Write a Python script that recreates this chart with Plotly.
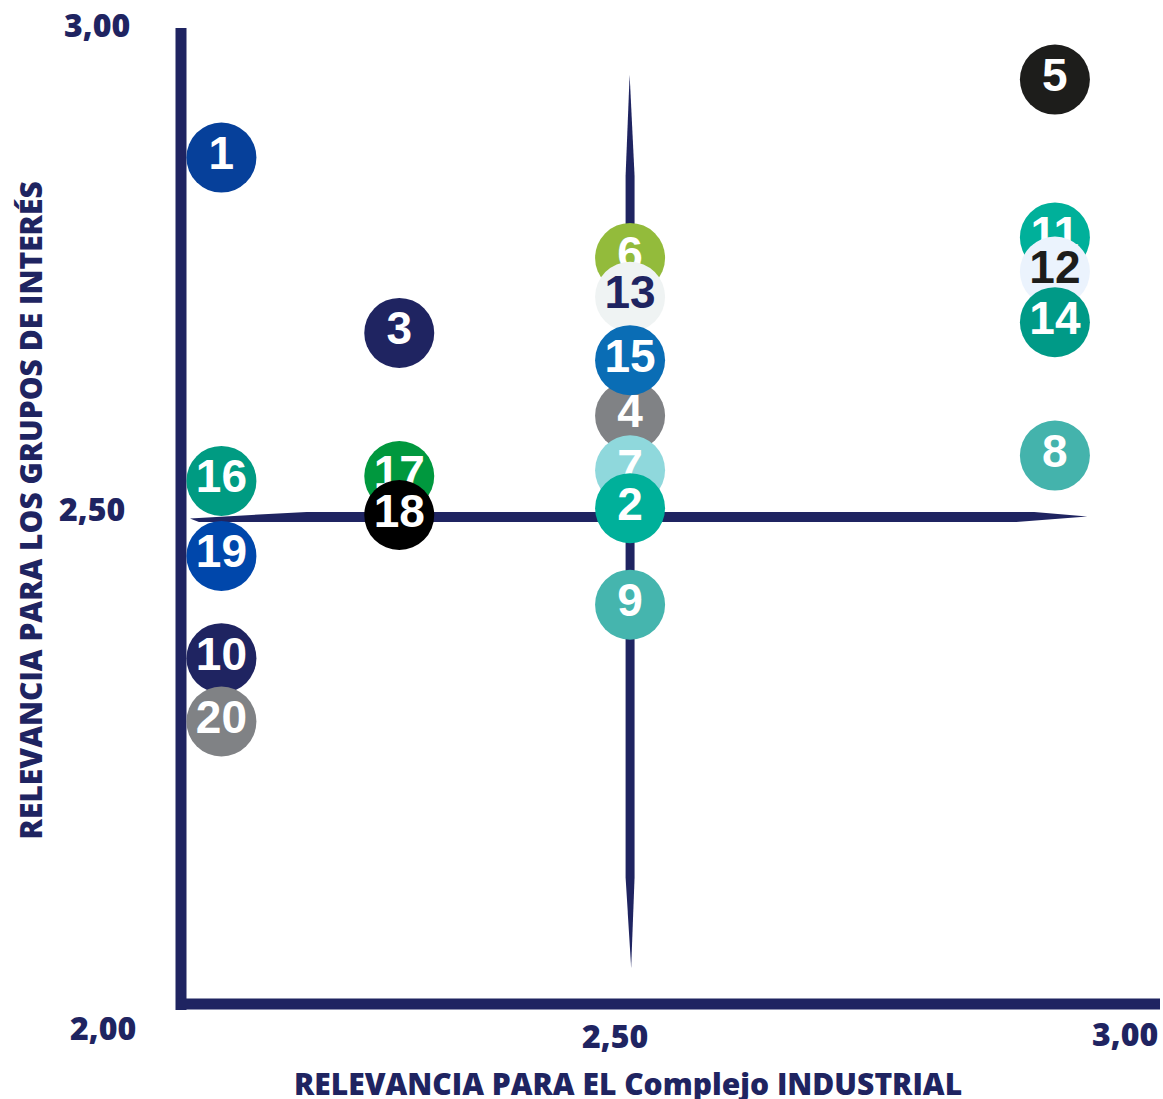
import plotly.graph_objects as go

# Materiality matrix: relevance for the industrial complex (x) vs stakeholders (y)
topic_ids = ["1", "2", "3", "4", "5", "6", "7", "8", "9", "10",
             "11", "12", "13", "14", "15", "16", "17", "18", "19", "20"]
relevance_complex = [2.045, 2.500, 2.243, 2.500, 2.973, 2.500, 2.500, 2.973, 2.500, 2.045,
                     2.973, 2.973, 2.500, 2.973, 2.500, 2.045, 2.243, 2.243, 2.045, 2.045]
relevance_stakeholders = [2.869, 2.509, 2.689, 2.604, 2.949, 2.766, 2.548, 2.563, 2.410, 2.355,
                          2.787, 2.752, 2.726, 2.700, 2.661, 2.537, 2.542, 2.502, 2.460, 2.290]
bubble_colors = ["#06409a", "#00b09a", "#1f2461", "#808285", "#1d1d1b",
                 "#93bb3b", "#8fd8dc", "#44b3ac", "#45b5ae", "#1f2461",
                 "#00b09a", "#ebf3fd", "#eff3f3", "#009a87", "#0a6db5",
                 "#009b82", "#00983e", "#000000", "#0047ab", "#808285"]
label_colors = ["white"] * 20
label_colors[11] = "#1d1d1b"
label_colors[12] = "#1f2461"

# stacking order of bubbles (later ones drawn on top)
draw_order = [1, 3, 5, 6, 13, 4, 15, 7, 2, 9, 8, 11, 12, 14, 10, 20, 16, 19, 17, 18]

x_axis_title = "RELEVANCIA PARA EL Complejo INDUSTRIAL"
y_axis_title = "RELEVANCIA PARA LOS GRUPOS DE INTERÉS"
x_tick_values = [2.5, 3.0]
x_tick_labels = ["2,50", "3,00"]
y_tick_values = [3.0, 2.5, 2.0]
y_tick_labels = ["3,00", "2,50", "2,00"]
threshold = 2.5

NAVY = "#1f2461"
TITLE_FONT = dict(family="Open Sans", size=30, color=NAVY, weight=800)
TICK_FONT = dict(family="Open Sans", size=32, color=NAVY, weight=800)

fig = go.Figure()

for tid in draw_order:
    i = topic_ids.index(str(tid))
    fig.add_trace(go.Scatter(
        x=[relevance_complex[i]], y=[relevance_stakeholders[i]],
        mode="markers+text",
        text=[topic_ids[i]],
        textposition="middle center",
        textfont=dict(family="Liberation Sans", size=46, color=label_colors[i], weight="bold"),
        marker=dict(size=70, color=bubble_colors[i], line=dict(width=0)),
        hoverinfo="skip", showlegend=False, cliponaxis=False,
    ))

# brush-stroke quadrant dividers at the threshold value
t = threshold
hx = 0.0052  # half thickness of the horizontal stroke (y units)
hy = 0.0050  # half thickness of the vertical stroke (x units)
h_path = (f"M 2.01,{t-0.0015} L 2.14,{t+hx} L 2.95,{t+hx} L 3.009,{t+0.0005} "
          f"L 2.93,{t-hx} L 2.02,{t-hx} Z")
v_path = (f"M {t-0.0005},2.954 L {t+hy},2.85 L {t+hy},2.13 L {t+0.0012},2.037 "
          f"L {t-hy},2.13 L {t-hy},2.85 Z")
for p in (h_path, v_path):
    fig.add_shape(type="path", path=p, xref="x", yref="y",
                  fillcolor=NAVY, line=dict(width=0), layer="below")

# heavy L-shaped axis lines
fig.add_shape(type="line", xref="paper", yref="paper", x0=0, x1=0, y0=-0.0061, y1=1.0,
              line=dict(color=NAVY, width=11), layer="below")
fig.add_shape(type="line", xref="paper", yref="paper", x0=-0.0051, x1=1.0, y0=0, y1=0,
              line=dict(color=NAVY, width=11), layer="below")

annotations = []
x_offsets = {2.5: (-15, -31), 3.0: (46, -29)}
for v, lab in zip(x_tick_values, x_tick_labels):
    dx, dy = x_offsets[v]
    annotations.append(dict(x=v, y=2.0, xref="x", yref="y", text=lab, showarrow=False,
                            xshift=dx, yshift=dy, font=TICK_FONT))
y_offsets = {3.0: (-84, 5), 2.5: (-89, 8), 2.0: (-78, -23)}
for v, lab in zip(y_tick_values, y_tick_labels):
    dx, dy = y_offsets[v]
    annotations.append(dict(x=2.0, y=v, xref="x", yref="y", text=lab, showarrow=False,
                            xshift=dx, yshift=dy, font=TICK_FONT))
annotations.append(dict(x=0.4566, y=-0.0815, xref="paper", yref="paper", text=x_axis_title,
                        showarrow=False, xanchor="center", yanchor="middle", font=TITLE_FONT))
annotations.append(dict(x=-0.154, y=0.506, xref="paper", yref="paper", text=y_axis_title,
                        textangle=-90, showarrow=False, xanchor="center", yanchor="middle",
                        font=TITLE_FONT))

fig.update_layout(
    width=1163, height=1099,
    margin=dict(l=181, r=3, t=28, b=95),
    paper_bgcolor="white", plot_bgcolor="white",
    xaxis=dict(range=[2.0, 3.090], showgrid=False, zeroline=False, showline=False,
               showticklabels=False, ticks=""),
    yaxis=dict(range=[2.0, 3.002], showgrid=False, zeroline=False, showline=False,
               showticklabels=False, ticks=""),
    annotations=annotations,
)

fig.write_html("out.html")
